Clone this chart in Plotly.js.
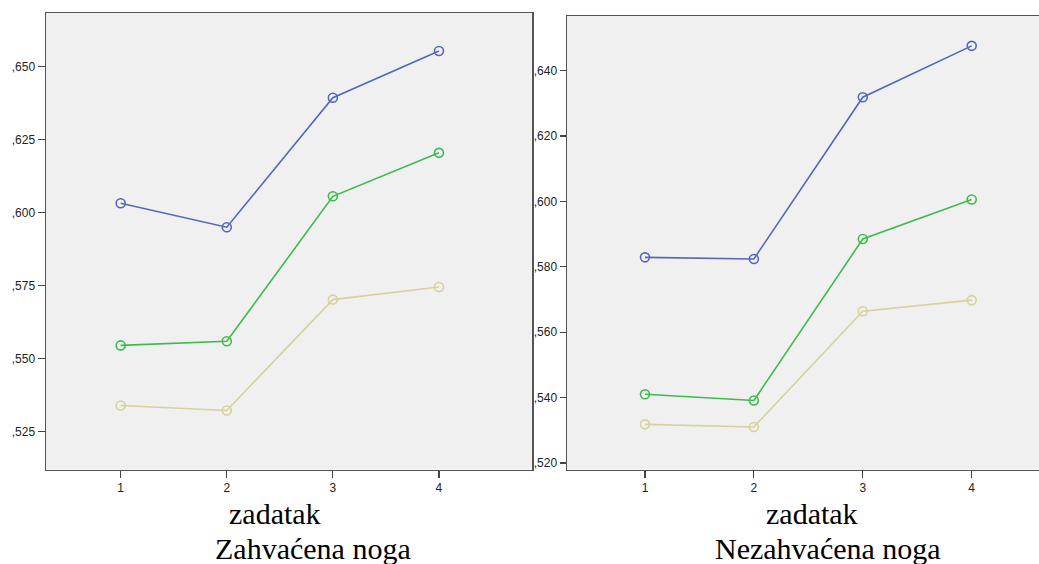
<!DOCTYPE html>
<html>
<head>
<meta charset="utf-8">
<script src="https://cdn.plot.ly/plotly-3.0.1.min.js"></script>
<style>html,body{margin:0;padding:0;background:#fff;}#chart{width:1039px;height:564px;}</style>
</head>
<body>
<div id="chart"></div>
<script>
// Categories (zadatak)
const zadatak = [1, 2, 3, 4];
const xTickText = ["1", "2", "3", "4"];

// Zahvaćena noga (left panel)
const leftBlue  = [0.6032, 0.5950, 0.6394, 0.6554];
const leftGreen = [0.5545, 0.5559, 0.6056, 0.6205];
const leftBeige = [0.5339, 0.5322, 0.5702, 0.5745];
const leftTickVals = [0.525, 0.550, 0.575, 0.600, 0.625, 0.650];
const leftTickText = [",525", ",550", ",575", ",600", ",625", ",650"];

// Nezahvaćena noga (right panel)
const rightBlue  = [0.5829, 0.5824, 0.6319, 0.6476];
const rightGreen = [0.5410, 0.5391, 0.5885, 0.6006];
const rightBeige = [0.5318, 0.5310, 0.5664, 0.5698];
const rightTickVals = [0.520, 0.540, 0.560, 0.580, 0.600, 0.620, 0.640];
const rightTickText = [",520", ",540", ",560", ",580", ",600", ",620", ",640"];

const xTitle = "zadatak";
const leftTitle = "Zahvaćena noga";
const rightTitle = "Nezahvaćena noga";

const colors = {blue: "#5468bb", green: "#3dbb4c", beige: "#d6d29c"};

function series(x, y, color, xa, ya) {
  return {
    x: x, y: y, type: "scatter", mode: "lines+markers",
    xaxis: xa, yaxis: ya,
    line: {color: color, width: 1.6},
    marker: {symbol: "circle-open", size: 9, color: color, line: {width: 1.6, color: color}},
    hoverinfo: "x+y", showlegend: false
  };
}

const data = [
  series(zadatak, leftBlue, colors.blue, "x", "y"),
  series(zadatak, leftGreen, colors.green, "x", "y"),
  series(zadatak, leftBeige, colors.beige, "x", "y"),
  series(zadatak, rightBlue, colors.blue, "x2", "y2"),
  series(zadatak, rightGreen, colors.green, "x2", "y2"),
  series(zadatak, rightBeige, colors.beige, "x2", "y2")
];

const H = 564, W = 1039;
const tickFont = {family: "Liberation Sans, Arial, sans-serif", size: 12, color: "#222"};
const axisCommon = {
  showgrid: false, zeroline: false, showline: true, linecolor: "#555", linewidth: 1.5,
  ticks: "outside", ticklen: 7, tickwidth: 1.2, tickcolor: "#444",
  tickfont: tickFont, fixedrange: true
};

const layout = {
  width: W, height: H,
  margin: {l: 0, r: 0, t: 0, b: 0},
  paper_bgcolor: "#ffffff",
  plot_bgcolor: "#f0f0f0",
  showlegend: false,
  xaxis: Object.assign({}, axisCommon, {
    domain: [46 / W, 532 / W], anchor: "y", range: [0.296, 4.877],
    tickmode: "array", tickvals: zadatak, ticktext: xTickText, mirror: true
  }),
  yaxis: Object.assign({}, axisCommon, {
    domain: [(H - 469.5) / H, (H - 13) / H], anchor: "x", range: [0.51196, 0.66843],
    tickmode: "array", tickvals: leftTickVals, ticktext: leftTickText, mirror: true
  }),
  xaxis2: Object.assign({}, axisCommon, {
    domain: [567 / W, 1], anchor: "y2", range: [0.284, 4.618],
    tickmode: "array", tickvals: zadatak, ticktext: xTickText, mirror: true
  }),
  yaxis2: Object.assign({}, axisCommon, {
    domain: [(H - 469.5) / H, (H - 16) / H], anchor: "x2", range: [0.51798, 0.65674],
    tickmode: "array", tickvals: rightTickVals, ticktext: rightTickText,
    ticklen: 6
  }),
  annotations: [
    {text: xTitle, xref: "paper", yref: "paper", x: 275 / W, y: (H - 513) / H,
     xanchor: "center", yanchor: "middle", showarrow: false,
     font: {family: "Liberation Serif, Times New Roman, serif", size: 30, color: "#000"}},
    {text: leftTitle, xref: "paper", yref: "paper", x: 313 / W, y: (H - 548) / H,
     xanchor: "center", yanchor: "middle", showarrow: false,
     font: {family: "Liberation Serif, Times New Roman, serif", size: 30, color: "#000"}},
    {text: xTitle, xref: "paper", yref: "paper", x: 811.7 / W, y: (H - 513) / H,
     xanchor: "center", yanchor: "middle", showarrow: false,
     font: {family: "Liberation Serif, Times New Roman, serif", size: 30, color: "#000"}},
    {text: rightTitle, xref: "paper", yref: "paper", x: 828 / W, y: (H - 548) / H,
     xanchor: "center", yanchor: "middle", showarrow: false,
     font: {family: "Liberation Serif, Times New Roman, serif", size: 30, color: "#000"}}
  ]
};

Plotly.newPlot("chart", data, layout, {displayModeBar: false, staticPlot: true});
</script>
</body>
</html>
